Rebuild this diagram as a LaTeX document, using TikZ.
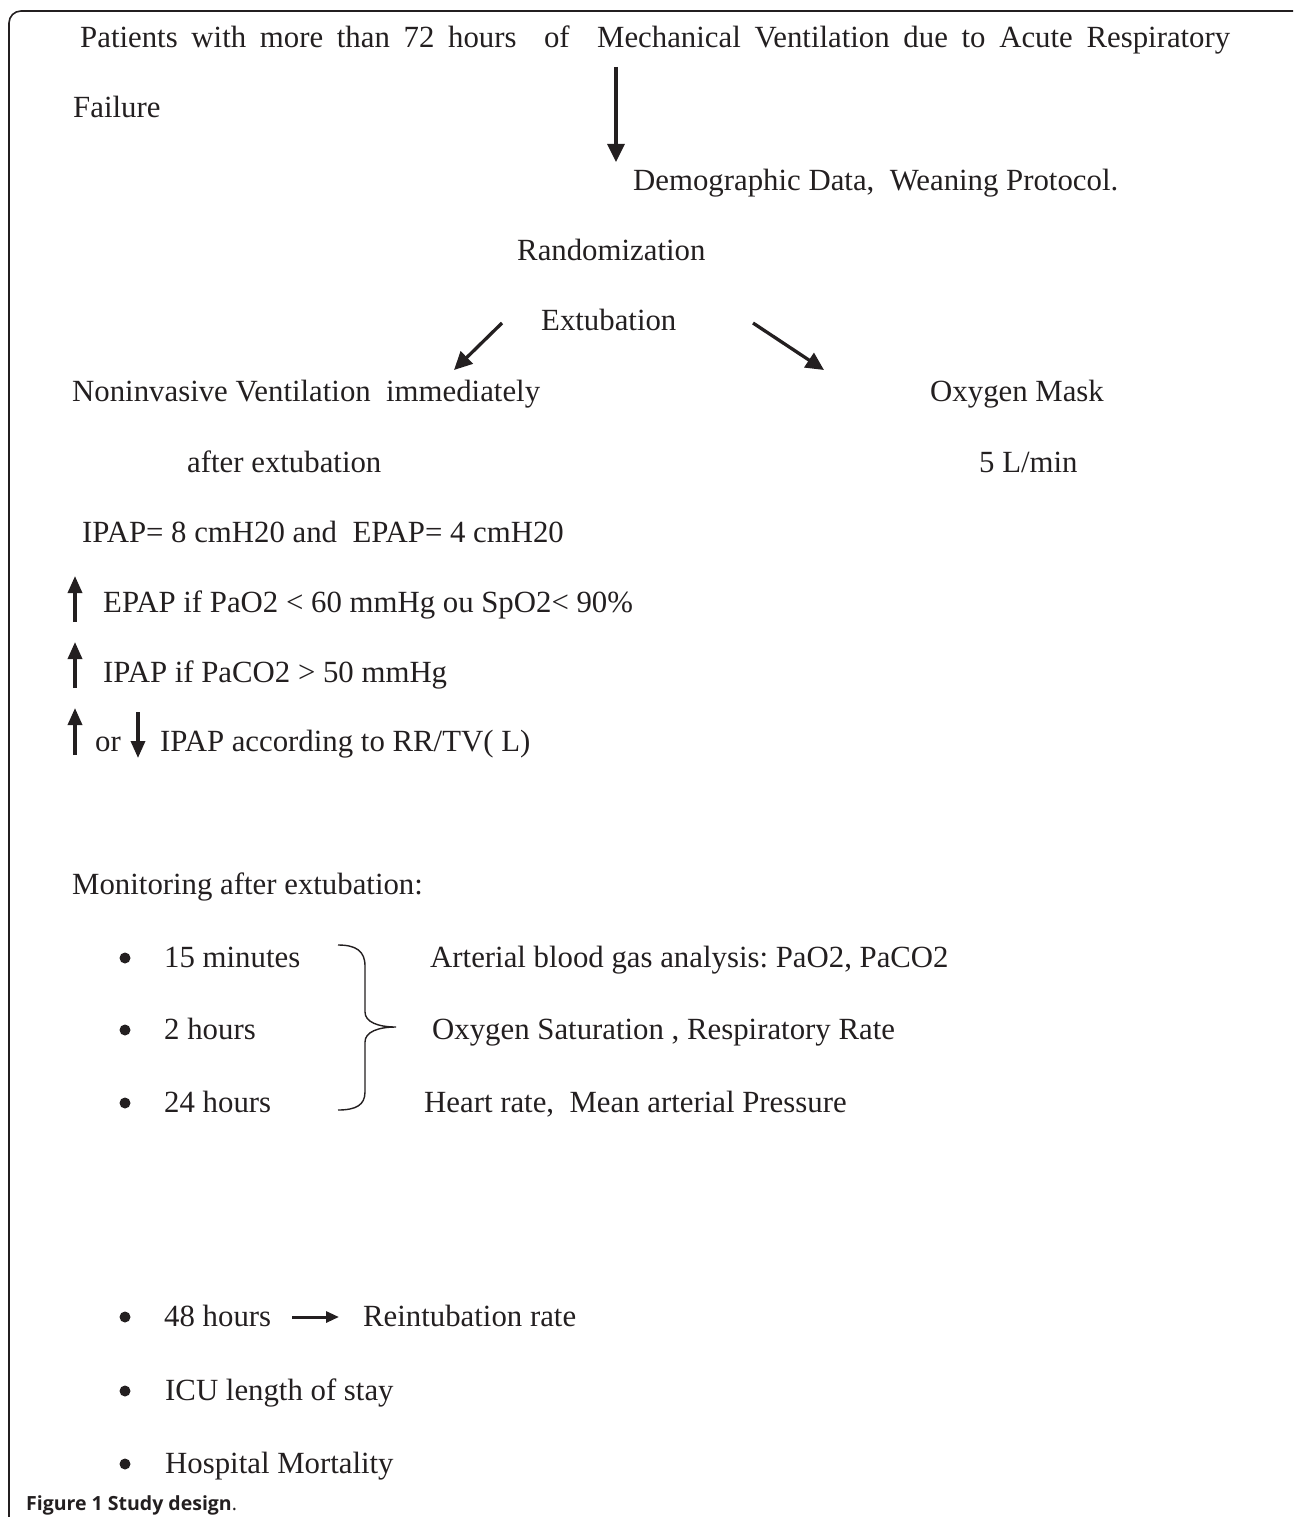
\documentclass[tikz,border=0pt]{standalone}
\usepackage{fontspec}
\setmainfont{Liberation Serif}
\newfontfamily\capfont{Open Sans}
\usetikzlibrary{arrows.meta}
\definecolor{ink}{HTML}{231F20}
\frenchspacing
\begin{document}
\begin{tikzpicture}[x=1pt,y=-1pt,
  txt/.style={anchor=base west,inner sep=0pt,text=ink,font=\fontsize{30.8}{36}\selectfont},
  arr/.style={draw=ink,line width=3.3pt,-{Triangle[length=18pt,width=17pt]}},
  sarr/.style={draw=ink,line width=3.4pt,-{Triangle[length=17pt,width=14pt]}},
  harr/.style={draw=ink,line width=3pt,-{Triangle[length=13pt,width=11pt]}},
  dot/.style={circle,fill=ink,inner sep=0pt,minimum size=11pt},
  brc/.style={draw=ink,line width=1.4pt}]
\useasboundingbox (0,0) rectangle (1293,1517);
\begin{scope}
\clip (0,0) rectangle (1293,1517);
\draw[ink,line width=1.6pt,rounded corners=12pt] (9,11) rectangle (1310,1560);
\end{scope}
% header
\node[txt] (pat) at (80,48) {\makebox[1150pt][s]{Patients with more than 72 hours\ \ of\ \ Mechanical Ventilation due to Acute Respiratory}};
\node[txt] (fail) at (73,118) {Failure};
\coordinate (d1) at (616,67);
\coordinate (d2) at (616,162);
\draw[arr] (d1) -- (d2);
\node[txt] (demo) at (633,191) {Demographic Data,\ \ Weaning Protocol.};
\node[txt] (rand) at (517,260) {Randomization};
\node[txt] (extu) at (541,330) {Extubation};
\coordinate (l1) at (502,323);
\coordinate (l2) at (454,370);
\coordinate (r1) at (753,323);
\coordinate (r2) at (824,370);
\draw[arr] (l1) -- (l2);
\draw[arr] (r1) -- (r2);
\node[txt] (niv) at (72,401) {Noninvasive Ventilation\ \ immediately};
\node[txt] (niv2) at (187,472) {after extubation};
\node[txt] (oxy) at (930,401) {Oxygen Mask};
\node[txt] (oxy2) at (979,472) {5 L/min};
% settings
\node[txt] (ipap) at (82,542) {IPAP= 8 cmH20 and\ \ EPAP= 4 cmH20};
\coordinate (u1a) at (75,622); \coordinate (u1b) at (75,576);
\coordinate (u2a) at (75,688); \coordinate (u2b) at (75,642);
\coordinate (u3a) at (75,755); \coordinate (u3b) at (75,708);
\coordinate (dna) at (138,712); \coordinate (dnb) at (138,758);
\draw[sarr] (u1a) -- (u1b);
\draw[sarr] (u2a) -- (u2b);
\draw[sarr] (u3a) -- (u3b);
\draw[sarr] (dna) -- (dnb);
\node[txt] (epap) at (103,612) {EPAP if PaO2 < 60 mmHg ou SpO2< 90\%};
\node[txt] (ipap2) at (103,682) {IPAP if PaCO2 > 50 mmHg};
\node[txt] (or) at (95,751) {or};
\node[txt] (ipap3) at (160,751) {IPAP according to RR/TV( L)};
% monitoring
\node[txt] (mon) at (72,894) {Monitoring after extubation:};
\node[dot] (b1) at (125,958) {};
\node[dot] (b2) at (125,1030) {};
\node[dot] (b3) at (125,1103) {};
\node[txt] (t15) at (164,967) {15 minutes};
\node[txt] (t2) at (164,1039) {2 hours};
\node[txt] (t24) at (164,1112) {24 hours};
\draw[brc] (338,945) .. controls (356,945) and (365,951) .. (365,966)
  -- (365,1012) .. controls (365,1022) and (378,1027) .. (396,1027)
  .. controls (378,1027) and (365,1032) .. (365,1042)
  -- (365,1092) .. controls (365,1105) and (356,1110) .. (338,1110);
\node[txt] (abg) at (430,967) {Arterial blood gas analysis: PaO2, PaCO2};
\node[txt] (osat) at (432,1039) {Oxygen Saturation , Respiratory Rate};
\node[txt] (hr) at (424,1112) {Heart rate,\ \ Mean arterial Pressure};
% outcomes
\node[dot] (b4) at (125,1317) {};
\node[dot] (b5) at (125,1391) {};
\node[dot] (b6) at (125,1464) {};
\node[txt] (h48) at (164,1326) {48 hours};
\node[txt] (reint) at (363,1326) {Reintubation rate};
\coordinate (h1) at (292,1317);
\coordinate (h2) at (339,1317);
\draw[harr] (h1) -- (h2);
\node[txt] (icu) at (165,1400) {ICU length of stay};
\node[txt] (hosp) at (165,1473) {Hospital Mortality};
\node[anchor=base west,inner sep=0pt,text=ink,font=\capfont\fontsize{19.5}{23}\selectfont] (cap) at (26,1510) {\textbf{Figure 1 Study design}.};
\end{tikzpicture}
\end{document}
